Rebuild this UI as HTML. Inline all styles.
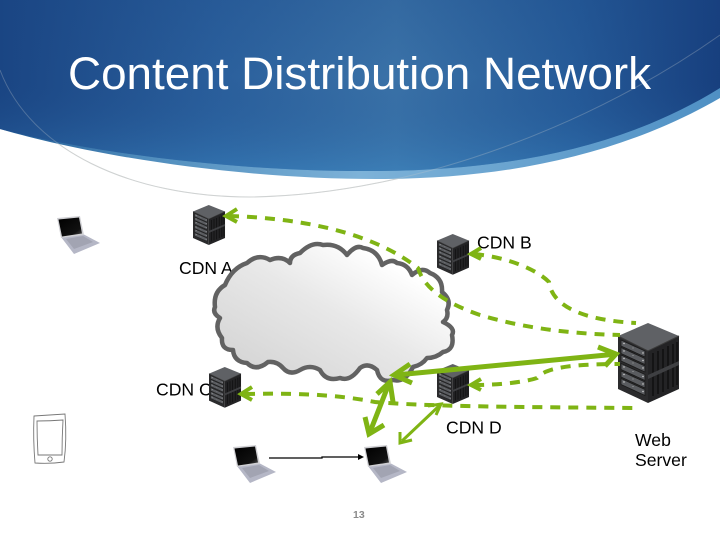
<!DOCTYPE html>
<html><head><meta charset="utf-8">
<style>html,body{margin:0;padding:0;background:#fff}svg{display:block}
text{font-family:"Liberation Sans",sans-serif}</style></head>
<body>
<svg width="720" height="540" viewBox="0 0 720 540" xmlns="http://www.w3.org/2000/svg">
<defs>
<clipPath id="below"><path d="M0,129 C100,158 250,180 385,179 C520,178 630,150 720,98 V540 H0Z"/></clipPath>
<linearGradient id="hg" x1="0" y1="0" x2="1" y2="0">
<stop offset="0" stop-color="#1a4583"/><stop offset=".3" stop-color="#2a5f9c"/><stop offset=".55" stop-color="#3a72a8"/><stop offset=".8" stop-color="#255a98"/><stop offset="1" stop-color="#173f7e"/>
</linearGradient>
<linearGradient id="hv" x1="0" y1="0" x2="0" y2="1">
<stop offset="0" stop-color="#1a4583" stop-opacity=".2"/><stop offset=".45" stop-color="#1a4583" stop-opacity="0"/><stop offset="1" stop-color="#3f8fca" stop-opacity=".4"/>
</linearGradient>
<linearGradient id="band" x1="0" y1="0" x2="1" y2="0">
<stop offset="0" stop-color="#1f5a94"/><stop offset=".2" stop-color="#4f8cbc"/><stop offset=".5" stop-color="#7db2d8"/><stop offset="1" stop-color="#4f90c4"/>
</linearGradient>
<linearGradient id="cl" x1="0" y1="1" x2="1" y2="0">
<stop offset="0" stop-color="#d0d0d0"/><stop offset=".5" stop-color="#e8e8e8"/><stop offset=".8" stop-color="#ffffff"/>
</linearGradient>
<linearGradient id="scr" x1="0" y1="0" x2="1" y2="1">
<stop offset="0" stop-color="#000"/><stop offset=".75" stop-color="#111"/><stop offset="1" stop-color="#555"/>
</linearGradient>
<g id="row">
<polygon points="3,17 27,28 27,34 3,23" fill="#5a5c60" stroke="#1a1a1a" stroke-width=".8"/>
<circle cx="6" cy="20.5" r=".7" fill="#ddd"/><circle cx="15" cy="25" r=".5" fill="#bbb"/><circle cx="25" cy="30" r=".7" fill="#ddd"/>
</g>
<g id="srv">
<polygon points="30,0 0,13 30,28 61,13" fill="#5f6165"/>
<polygon points="0,13 30,28 30,80 0,66" fill="#2b2b2d"/>
<polygon points="30,28 61,13 61,66 30,80" fill="#232325"/>
<polyline points="0,13 30,28 61,13" fill="none" stroke="#3a3a3a" stroke-width="1"/>
<use href="#row"/>
<use href="#row" transform="translate(0,7.5)"/>
<use href="#row" transform="translate(0,15)"/>
<use href="#row" transform="translate(0,23.5)"/>
<use href="#row" transform="translate(0,31)"/>
<use href="#row" transform="translate(0,38.5)"/>
<g stroke="#111" stroke-width="1.6">
<line x1="35" y1="30" x2="35" y2="73"/><line x1="40" y1="28" x2="40" y2="71"/><line x1="45" y1="26" x2="45" y2="69"/><line x1="50" y1="23" x2="50" y2="66"/><line x1="55" y1="21" x2="55" y2="64"/><line x1="59" y1="19" x2="59" y2="62"/>
</g>
<polygon points="30,52 61,38 61,42 30,56" fill="#3e3f42"/>
</g>
<g id="lap">
<polygon points="61,237 83,234 100,243 74,254" fill="#b5b7c6"/>
<polygon points="66,239 83,236 93,242 74,249" fill="#a2a4b2"/>
<polygon points="57,218 80,216 84,235 61,238" fill="#d0d0d4"/>
<polygon points="58.5,219.5 79,217.5 82,233.5 62,236.5" fill="url(#scr)"/>
</g>
</defs>

<rect width="720" height="540" fill="#fff"/>
<!-- header -->
<path d="M0,129 C100,158 250,180 385,179 C520,178 630,150 720,98 L720,80 L0,80Z" fill="url(#band)"/>
<path d="M0,0H720V88 C620,150 500,171 370,171 C250,172 100,155 0,129Z" fill="url(#hg)"/>
<path d="M0,0H720V88 C620,150 500,171 370,171 C250,172 100,155 0,129Z" fill="url(#hv)"/>
<path d="M0,70 C30,150 130,197 250,197 C420,195 600,120 720,35" fill="none" stroke="#c4c9cc" stroke-opacity=".3" stroke-width="1"/>
<path d="M0,70 C30,150 130,197 250,197 C420,195 600,120 720,35" fill="none" stroke="#cfd2d2" stroke-width="1" clip-path="url(#below)"/>
<text x="68" y="89" font-size="45" fill="#fff" textLength="583" lengthAdjust="spacingAndGlyphs">Content Distribution Network</text>

<!-- labels under -->
<text x="477" y="248.5" font-size="17.6" fill="#000">CDN B</text>
<text x="179" y="274" font-size="17.6" fill="#000">CDN A</text>
<text x="156" y="395.5" font-size="17.6" fill="#000">CDN C</text>
<text x="446" y="433.5" font-size="17.6" fill="#000">CDN D</text>
<text x="635" y="446" font-size="17.6" fill="#000">Web</text>
<text x="635" y="466" font-size="17.6" fill="#000">Server</text>
<text x="353" y="518" font-size="10.5" font-weight="bold" fill="#8a8a8a">13</text>

<!-- cloud -->
<path d="M215,307 Q213,292 225,285 Q232,268 247,263 Q258,253 270,260 Q282,255 290,263 Q290,255 300,253 Q312,241 323,245 Q338,243 347,255 Q356,244 363,248 Q378,250 382,265 Q392,258 397,263 Q408,264 412,275 Q422,266 430,273 Q443,278 442,292 Q452,300 447,310 Q449,318 443,322 Q456,328 452,335 Q455,350 443,352 Q436,358 427,358 Q422,365 413,367 Q405,383 393,380 Q380,384 377,370 Q368,362 360,368 Q350,382 340,378 Q326,382 320,370 Q310,364 300,370 Q290,376 283,368 Q277,361 268,362 Q256,372 247,363 Q234,362 233,350 Q221,350 222,338 Q214,328 220,318 Q212,313 215,307Z" fill="url(#cl)" stroke="#626262" stroke-width="4.5" stroke-linejoin="round"/>

<!-- servers -->
<use href="#srv" transform="translate(193,205) scale(.525,.5)"/>
<use href="#srv" transform="translate(437,234) scale(.525,.51)"/>
<use href="#srv" transform="translate(209,367) scale(.525,.51)"/>
<use href="#srv" transform="translate(437,364) scale(.525,.5)"/>
<use href="#srv" transform="translate(618,323)"/>

<!-- dashed connectors -->
<g fill="none" stroke="#7fb414" stroke-width="4">
<g stroke-dasharray="10 8">
<path d="M229,216 C300,218 372,232 418,268 C424,288 445,303 480,315 C530,330 580,334 620,335"/>
<path d="M474,254 C505,257 535,268 549,282 C552,305 580,320 636,323"/>
<path d="M474,385 C500,385 525,382 537,378 C545,368 570,364 620,364"/>
<path d="M245,394 C290,393 335,394 375,402 C420,406 500,407 636,408"/>
</g>
<polyline points="237,209 226,216 237,222" stroke-width="4"/>
<polyline points="481,248 471,254 481,259" stroke-width="4"/>
<polyline points="481,379 471,385 481,390" stroke-width="4"/>
<polyline points="252,387 241,394 252,400" stroke-width="4"/>
</g>

<!-- solid arrows -->
<g fill="none" stroke="#7fb414" stroke-linecap="butt">
<line x1="396" y1="375" x2="612" y2="354.5" stroke-width="5"/>
<polyline points="410,364 394,375 412,383" stroke-width="5"/>
<polyline points="598,347 616,354 605,366" stroke-width="5"/>
<line x1="388" y1="386" x2="370" y2="432" stroke-width="5"/>
<polyline points="377,394 390,382 393,402" stroke-width="5"/>
<polyline points="365,417 369,434 384,425" stroke-width="5"/>
<line x1="439" y1="406" x2="402" y2="441" stroke-width="3"/>
<polyline points="428,406 441,404 436,415" stroke-width="3"/>
<polyline points="400,432 400,443 412,440" stroke-width="3"/>
</g>

<!-- laptops -->
<use href="#lap"/>
<use href="#lap" transform="translate(176,229)"/>
<use href="#lap" transform="translate(307,229)"/>

<!-- black connector -->
<polyline points="269,458 322,458 322,457 360,457" fill="none" stroke="#000" stroke-width="1.3"/>
<polygon points="364,457 358,454 358,460" fill="#000"/>

<!-- tablet -->
<g fill="none" stroke="#777" stroke-width=".9">
<path d="M34,416 Q50,415 65,414 Q67,440 64,462 Q50,464 35,463 Q33,440 34,416Z"/>
<path d="M37,421 Q50,421 63,420 Q62,438 62,455 L38,455 Q37,438 37,421Z"/>
<circle cx="50" cy="459" r="2.2"/>
</g>
</svg>
</body></html>
